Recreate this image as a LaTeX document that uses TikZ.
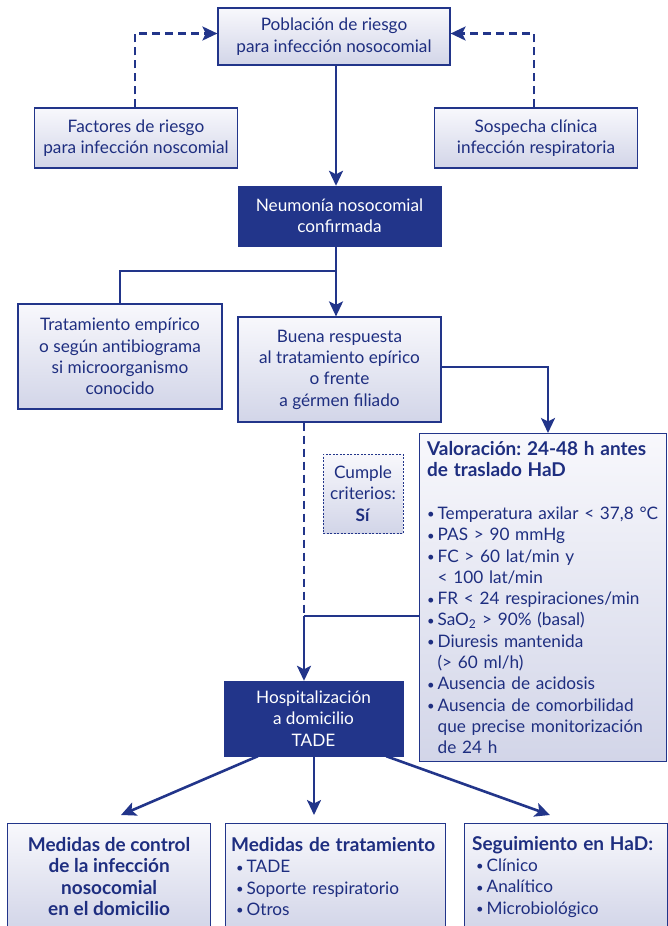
\documentclass[tikz,border=0pt]{standalone}
\usepackage{fontspec}
\setmainfont{Lato}
\usetikzlibrary{arrows.meta,calc}
\definecolor{navy}{HTML}{22358A}
\definecolor{txt}{HTML}{1E2E80}
\definecolor{boxtop}{HTML}{F8F8FC}
\definecolor{boxbot}{HTML}{D2D5E8}
\newcommand\dfont{\fontsize{17.2}{21.3}\selectfont}
\newcommand\bt[1]{{\fontsize{19}{21.3}\selectfont\bfseries #1}}
\newcommand\bul{\hspace*{6pt}{\fontsize{13}{0}\selectfont\raisebox{0.6pt}{•}}\hspace{3pt}}
\frenchspacing
\begin{document}
\begin{tikzpicture}[x=1pt,y=-1pt,
  lbox/.style={draw=navy, line width=1.2pt, top color=boxtop, bottom color=boxbot,
    text=txt, align=center, inner sep=0pt, font=\dfont},
  dbox/.style={draw=navy, fill=navy, text=white, align=center, inner sep=0pt, font=\dfont},
  conn/.style={draw=navy, line width=2.6pt},
  tip/.style={-{Stealth[length=15pt,width=14pt,inset=3.5pt]}},
  arr/.style={conn, tip},
  dconn/.style={conn, dash pattern=on 8pt off 5pt}]
\useasboundingbox (0,0) rectangle (668,926);
\clip (0,0) rectangle (668,926);

\node[lbox, minimum width=232, minimum height=57] (pob) at (334,36.5)
  {Población de riesgo\\para infección nosocomial};
\node[lbox, minimum width=203, minimum height=60] (fac) at (136,138)
  {Factores de riesgo\\para infección noscomial};
\node[lbox, minimum width=203, minimum height=60] (sos) at (536,138)
  {Sospecha clínica\\infección respiratoria};
\node[dbox, minimum width=203, minimum height=60] (neu) at (339.5,216)
  {Neumonía nosocomial\\confirmada};
\node[lbox, minimum width=204, minimum height=105] (trat) at (120,356.5)
  {Tratamiento empírico\\o según antibiograma\\si microorganismo\\conocido};
\node[lbox, minimum width=203, minimum height=105] (bue) at (339.5,369.5)
  {Buena respuesta\\al tratamiento epírico\\o frente\\a gérmen filiado};
\node[lbox, anchor=north west, minimum width=247, minimum height=328,
  text width=244, inner xsep=1.5, align=left] (val) at (419,433)
  {\hspace*{6pt}\bt{Valoración: 24-48 h antes}\\
   \hspace*{6pt}\bt{de traslado HaD}\\[21.3pt]
   \bul Temperatura axilar < 37,8 °C\\
   \bul PAS > 90 mmHg\\
   \bul FC > 60 lat/min y\\
   \hphantom{\bul}< 100 lat/min\\
   \bul FR < 24 respiraciones/min\\
   \bul SaO\textsubscript{2} > 90\% (basal)\\
   \bul Diuresis mantenida\\
   \hphantom{\bul}(> 60 ml/h)\\
   \bul Ausencia de acidosis\\
   \bul Ausencia de comorbilidad\\
   \hphantom{\bul}que precise monitorización\\
   \hphantom{\bul}de 24 h};
\node[lbox, line width=0.8pt, dash pattern=on 2pt off 1.5pt, minimum width=80, minimum height=79] (cum) at (363,493.5)
  {Cumple\\criterios:\\\textbf{Sí}};
\node[dbox, minimum width=179, minimum height=75] (hosp) at (313.5,718.5)
  {Hospitalización\\a domicilio\\TADE};
\node[lbox, anchor=north west, minimum width=203, minimum height=106] (b1) at (7,823)
  {\bt{Medidas de control}\\\bt{de la infección}\\\bt{nosocomial}\\\bt{en el domicilio}};
\node[lbox, anchor=north west, minimum width=220, minimum height=106,
  text width=217, inner xsep=1.5, align=left] (b2) at (225,823)
  {\hspace*{4pt}\bt{Medidas de tratamiento}\\
   \hspace*{3pt}\bul TADE\\
   \hspace*{3pt}\bul Soporte respiratorio\\
   \hspace*{3pt}\bul Otros};
\node[lbox, anchor=north west, minimum width=203, minimum height=106,
  text width=200, inner xsep=1.5, align=left] (b3) at (464,823)
  {\hspace*{6pt}\bt{Seguimiento en HaD:}\\
   \hspace*{4pt}\bul Clínico\\
   \hspace*{4pt}\bul Analítico\\
   \hspace*{4pt}\bul Microbiológico};

% connectors
\draw[dconn, tip] (fac.north -| 135,0) |- ($(pob.west)+(0,-3)$);
\draw[dconn, tip] (sos.north -| 534,0) |- ($(pob.east)+(0,-3)$);
\draw[arr] (pob.south -| 336,0) -- (neu.north -| 336,0);
\coordinate (j1) at (336,271);
\draw[conn] (neu.south -| j1) -- (j1) -| (trat.north);
\draw[arr] (j1) -- (bue.north -| j1);
\coordinate (j3) at (548,367);
\draw[arr] (bue.east |- j3) -- (j3) -- (val.north -| j3);
\coordinate (j2) at (304,616);
\draw[dconn] (bue.south -| j2) -- (j2);
\draw[arr] (j2) -- (hosp.north -| j2);
\draw[conn] (val.west |- j2) -- (j2);
\coordinate (e1) at (121,815);
\coordinate (e2) at (314,815);
\coordinate (e3) at (550,815);
\draw[arr] ($(hosp.south west)+(34,0)$) -- (e1);
\draw[arr] (hosp.south -| e2) -- (e2);
\draw[arr] ($(hosp.south east)+(-17,0)$) -- (e3);
\end{tikzpicture}
\end{document}
